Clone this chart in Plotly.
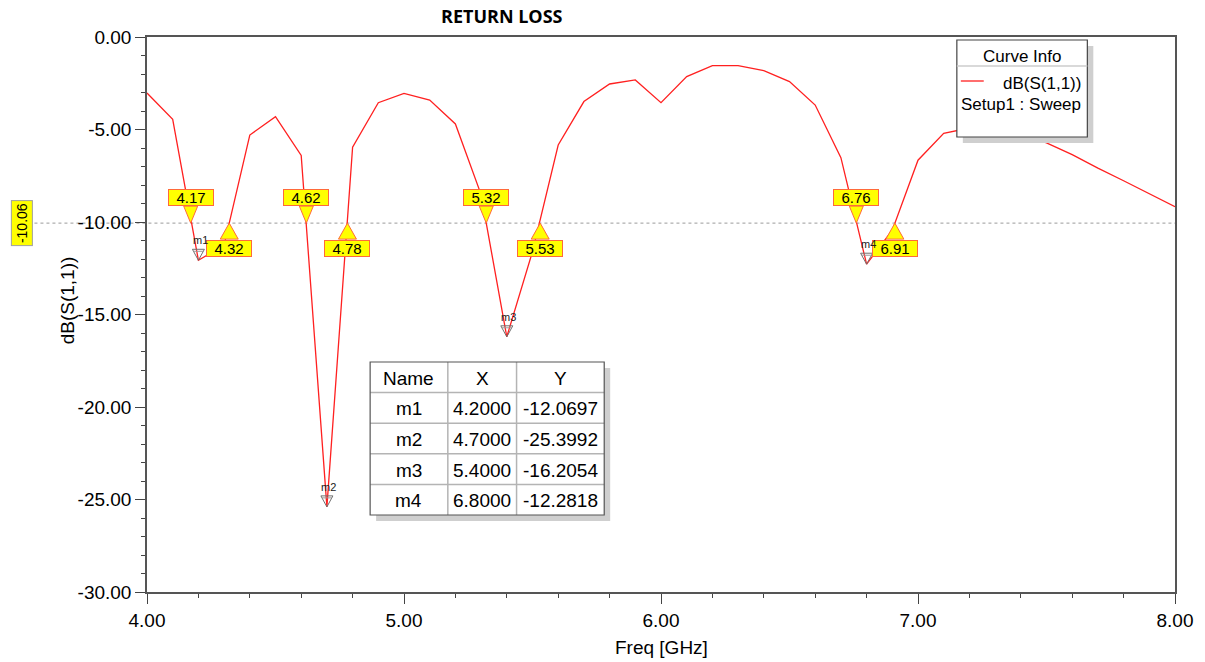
import plotly.graph_objects as go

# ---------------- data ----------------
freq = [4.0, 4.1, 4.2, 4.3, 4.4, 4.5, 4.6, 4.7, 4.8, 4.9,
        5.0, 5.1, 5.2, 5.3, 5.4, 5.5, 5.6, 5.7, 5.8, 5.9,
        6.0, 6.1, 6.2, 6.3, 6.4, 6.5, 6.6, 6.7, 6.8, 6.9,
        7.0, 7.1, 7.2, 7.3, 7.4, 7.5, 7.6, 7.7, 7.8, 7.9, 8.0]
s11_db = [-3.03, -4.45, -12.0697, -11.25, -5.30, -4.31, -6.40, -25.3992, -5.96, -3.55,
          -3.05, -3.41, -4.70, -8.52, -16.2054, -11.60, -5.84, -3.49, -2.54, -2.32,
          -3.55, -2.14, -1.55, -1.55, -1.82, -2.41, -3.68, -6.52, -12.2818, -10.44,
          -6.66, -5.21, -4.92, -4.95, -5.18, -5.72, -6.36, -7.09, -7.77, -8.46, -9.17]

marker_names = ["m1", "m2", "m3", "m4"]
marker_x = [4.2, 4.7, 5.4, 6.8]
marker_y = [-12.0697, -25.3992, -16.2054, -12.2818]

threshold_db = -10.06
crossings = [4.17, 4.32, 4.62, 4.78, 5.32, 5.53, 6.76, 6.91]

x_ticks = [4.0, 5.0, 6.0, 7.0, 8.0]
y_ticks = [0.0, -5.0, -10.0, -15.0, -20.0, -25.0, -30.0]

table_header = ["Name", "X", "Y"]
legend_title = "Curve Info"
legend_trace = "dB(S(1,1))"
legend_setup = "Setup1 : Sweep"

# ---------------- layout helpers ----------------
W, H = 1205, 662
L, R, T, B = 147, 26, 37, 70
PW, PH = W - L - R, H - T - B


def px(xp):
    return (xp - L) / PW


def py(yp):
    return (H - B - yp) / PH


FONT = "Liberation Sans, Arial, sans-serif"
RED = "#ff2020"
YEL = "#ffff00"
ORANGE = "#ff6a3a"


def ann(**kw):
    d = dict(showarrow=False, xanchor="center", yanchor="middle")
    d.update(kw)
    return d


fig = go.Figure()
fig.add_trace(go.Scatter(x=freq, y=s11_db, mode="lines",
                         line=dict(color=RED, width=1.3),
                         hoverinfo="x+y", showlegend=False))

shapes = []
annotations = []

# threshold dotted line (extends to the left label)
shapes.append(dict(type="line", xref="paper", yref="y", x0=px(34), x1=1,
                   y0=threshold_db, y1=threshold_db,
                   line=dict(color="#9a9a9a", width=1, dash="dot"), layer="below"))
annotations.append(ann(xref="paper", yref="y", x=px(21.5), y=threshold_db,
                       text=f"{threshold_db:.2f}", textangle=-90,
                       font=dict(family=FONT, size=14, color="black"),
                       bgcolor=YEL, bordercolor="#a0a0a0", borderwidth=1, borderpad=2))

# crossing labels
for i, c in enumerate(crossings):
    above = (i % 2 == 0)
    if above:
        path = "M -7,17 L 7,17 L 0,0 Z"
        ysh = 26
    else:
        path = "M -9,-16 L 9,-16 L 0,0 Z"
        ysh = -25
    shapes.append(dict(type="path", xref="x", yref="y", xsizemode="pixel", ysizemode="pixel",
                       xanchor=c, yanchor=threshold_db, path=path,
                       fillcolor=YEL, line=dict(color=ORANGE, width=1), layer="above"))
    annotations.append(ann(xref="x", yref="y", x=c, y=threshold_db, yshift=ysh,
                           text=f"{c:.2f}",
                           font=dict(family=FONT, size=15, color="black"),
                           bgcolor=YEL, bordercolor=ORANGE, borderwidth=1, borderpad=0,
                           width=44, height=15))

# m markers
for n, mx, my in zip(marker_names, marker_x, marker_y):
    shapes.append(dict(type="path", xref="x", yref="y", xsizemode="pixel", ysizemode="pixel",
                       xanchor=mx, yanchor=my, path="M -6,11 L 6,11 L 0,0 Z",
                       fillcolor="rgba(255,255,255,0)", line=dict(color="#707070", width=1),
                       layer="above"))
    shapes.append(dict(type="path", xref="x", yref="y", xsizemode="pixel", ysizemode="pixel",
                       xanchor=mx, yanchor=my, path="M -5,9 L 5,9",
                       line=dict(color="#9a9a9a", width=1), layer="above"))
    annotations.append(ann(xref="x", yref="y", x=mx, y=my, xshift=2, yshift=20,
                           text=n, font=dict(family=FONT, size=11, color="#222")))

# ---------------- marker table ----------------
tx0, tx1, ty0, ty1 = 371, 606, 362, 515
col_edges = [371, 449, 518, 606]
nrows = len(marker_names) + 1
row_h = (ty1 - ty0) / nrows
shapes.append(dict(type="rect", xref="paper", yref="paper",
                   x0=px(tx0 + 6), x1=px(tx1 + 6), y0=py(ty0 + 6), y1=py(ty1 + 6),
                   fillcolor="#cfcfcf", line=dict(width=0), layer="above"))
shapes.append(dict(type="rect", xref="paper", yref="paper",
                   x0=px(tx0), x1=px(tx1), y0=py(ty0), y1=py(ty1),
                   fillcolor="white", line=dict(width=0), layer="above"))
for ce in col_edges[1:-1]:
    shapes.append(dict(type="line", xref="paper", yref="paper", x0=px(ce), x1=px(ce),
                       y0=py(ty0), y1=py(ty1), line=dict(color="#b4b4b4", width=1.5), layer="above"))
for r in range(1, nrows):
    yy = ty0 + r * row_h
    shapes.append(dict(type="line", xref="paper", yref="paper", x0=px(tx0), x1=px(tx1),
                       y0=py(yy), y1=py(yy), line=dict(color="#b4b4b4", width=1.5), layer="above"))
shapes.append(dict(type="rect", xref="paper", yref="paper",
                   x0=px(tx0), x1=px(tx1), y0=py(ty0), y1=py(ty1),
                   fillcolor="rgba(0,0,0,0)", line=dict(color="#555", width=1.2), layer="above"))
rows = [table_header] + [[n, f"{x:.4f}", f"{y:.4f}"]
                         for n, x, y in zip(marker_names, marker_x, marker_y)]
for r, row in enumerate(rows):
    yc = ty0 + (r + 0.5) * row_h
    for c, txt in enumerate(row):
        xc = (col_edges[c] + col_edges[c + 1]) / 2
        annotations.append(ann(xref="paper", yref="paper", x=px(xc), y=py(yc + 1),
                               text=txt, font=dict(family=FONT, size=19, color="black")))

# ---------------- curve info box ----------------
lx0, lx1, ly0, ly1 = 960, 1091, 40, 137
shapes.append(dict(type="rect", xref="paper", yref="paper",
                   x0=px(lx0 + 6), x1=px(lx1 + 6), y0=py(ly0 + 6), y1=py(ly1 + 6),
                   fillcolor="#cfcfcf", line=dict(width=0), layer="above"))
shapes.append(dict(type="rect", xref="paper", yref="paper",
                   x0=px(lx0), x1=px(lx1), y0=py(ly0), y1=py(ly1),
                   fillcolor="white", line=dict(color="#444", width=1.2), layer="above"))
shapes.append(dict(type="line", xref="paper", yref="paper", x0=px(lx0), x1=px(lx1),
                   y0=py(66), y1=py(66), line=dict(color="#cccccc", width=1.5), layer="above"))
shapes.append(dict(type="line", xref="paper", yref="paper", x0=px(964), x1=px(987),
                   y0=py(81), y1=py(81), line=dict(color=RED, width=1.3), layer="above"))
annotations.append(ann(xref="paper", yref="paper", x=px(1025), y=py(57), text=legend_title,
                       font=dict(family=FONT, size=17, color="black")))
annotations.append(ann(xref="paper", yref="paper", x=px(1087), y=py(83), text=legend_trace,
                       xanchor="right", font=dict(family=FONT, size=17, color="black")))
annotations.append(ann(xref="paper", yref="paper", x=px(962), y=py(105), text=legend_setup,
                       xanchor="left", font=dict(family=FONT, size=17, color="black")))

# ---------------- titles ----------------
annotations.append(ann(xref="paper", yref="paper", x=px(503), y=py(16), text="<b>RETURN LOSS</b>",
                       font=dict(family="Open Sans, sans-serif", size=18, color="black")))
annotations.append(ann(xref="paper", yref="paper", x=px(663), y=py(647), text="Freq [GHz]",
                       font=dict(family=FONT, size=19, color="black")))
annotations.append(ann(xref="paper", yref="paper", x=px(67), y=py(300), text="dB(S(1,1))",
                       textangle=-90, font=dict(family=FONT, size=19, color="black")))

fig.update_layout(
    width=W, height=H,
    margin=dict(l=L, r=R, t=T, b=B),
    paper_bgcolor="white", plot_bgcolor="white",
    showlegend=False,
    shapes=shapes, annotations=annotations,
    font=dict(family=FONT, size=19, color="black"),
)
fig.update_xaxes(range=[4, 8], tickvals=x_ticks, ticktext=[f"{v:.2f}" for v in x_ticks],
                 ticks="outside", ticklen=10, tickwidth=1, tickcolor="#444",
                 showline=True, linecolor="#555", linewidth=1.5, mirror=True,
                 showgrid=False, zeroline=False,
                 minor=dict(dtick=0.2, ticks="outside", ticklen=4, tickcolor="#444", showgrid=False),
                 tickfont=dict(family=FONT, size=19, color="black"))
fig.update_yaxes(range=[-30, 0], tickvals=y_ticks, ticktext=[f"{v:.2f}" for v in y_ticks],
                 ticks="outside", ticklen=10, tickwidth=1, tickcolor="#444",
                 showline=True, linecolor="#555", linewidth=1.5, mirror=True,
                 showgrid=False, zeroline=False,
                 minor=dict(dtick=1, ticks="outside", ticklen=4, tickcolor="#444", showgrid=False),
                 tickfont=dict(family=FONT, size=19, color="black"))

fig.write_html("out.html")
